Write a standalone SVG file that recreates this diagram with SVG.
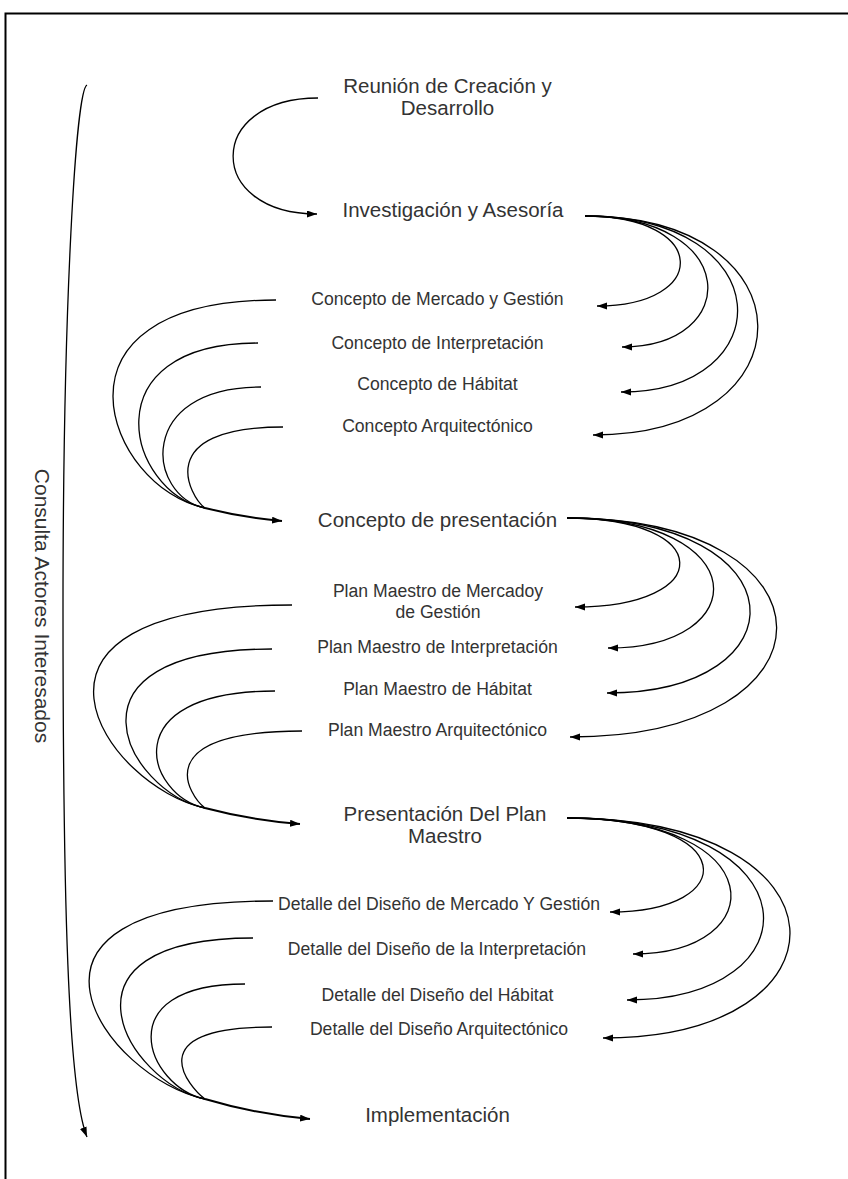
<svg xmlns="http://www.w3.org/2000/svg" width="848" height="1179" viewBox="0 0 848 1179">
<style>
.t{font-family:"Liberation Sans",Arial,sans-serif;fill:#333;text-anchor:middle}
.big{font-size:20.5px}
.lab{font-size:17.6px}
.c{fill:none;stroke:#000;stroke-width:1.3}
.e{marker-end:url(#ah)}
.tail{fill:none;stroke:#000;stroke-width:2;marker-end:url(#ah)}
</style>
<defs>
<marker id="ah" markerUnits="userSpaceOnUse" markerWidth="11" markerHeight="8" refX="10" refY="3.5" orient="auto">
<path d="M0,0 L10,3.5 L0,7 z" fill="#000"/>
</marker>
</defs>
<rect width="848" height="1179" fill="#fff"/>
<path d="M5.5,1179 V13.5 H848" fill="none" stroke="#000" stroke-width="2"/>

<g id="n-consulta"><text class="t" font-size="21" transform="translate(35,606) rotate(90)">Consulta Actores Interesados</text></g>
<g id="n-reunion"><text class="t big" x="447.5" y="93">Reunión de Creación y</text><text class="t big" x="447.5" y="114.5">Desarrollo</text></g>
<g id="n-investigacion"><text class="t big" x="453" y="217">Investigación y Asesoría</text></g>
<g id="n-c1"><text class="t lab" x="437.5" y="305">Concepto de Mercado y Gestión</text></g>
<g id="n-c2"><text class="t lab" x="437.5" y="349">Concepto de Interpretación</text></g>
<g id="n-c3"><text class="t lab" x="437.5" y="390">Concepto de Hábitat</text></g>
<g id="n-c4"><text class="t lab" x="437.5" y="432">Concepto Arquitectónico</text></g>
<g id="n-presentacion"><text class="t big" x="437.5" y="527">Concepto de presentación</text></g>
<g id="n-p1"><text class="t lab" x="438" y="597">Plan Maestro de Mercadoy</text><text class="t lab" x="438" y="618">de Gestión</text></g>
<g id="n-p2"><text class="t lab" x="437.5" y="653">Plan Maestro de Interpretación</text></g>
<g id="n-p3"><text class="t lab" x="437.5" y="695">Plan Maestro de Hábitat</text></g>
<g id="n-p4"><text class="t lab" x="437.5" y="736">Plan Maestro Arquitectónico</text></g>
<g id="n-plan"><text class="t big" x="445" y="821">Presentación Del Plan</text><text class="t big" x="445" y="842.5">Maestro</text></g>
<g id="n-d1"><text class="t lab" x="439" y="910">Detalle del Diseño de Mercado Y Gestión</text></g>
<g id="n-d2"><text class="t lab" x="437" y="955">Detalle del Diseño de la Interpretación</text></g>
<g id="n-d3"><text class="t lab" x="437.5" y="1001">Detalle del Diseño del Hábitat</text></g>
<g id="n-d4"><text class="t lab" x="439" y="1035">Detalle del Diseño Arquitectónico</text></g>
<g id="n-impl"><text class="t big" x="437.5" y="1122">Implementación</text></g>

<g id="connectors">
<path class="c e" d="M87,85 C76,90 63,300 63,610 C63,900 68,1090 87,1137"/>
<path class="c e" d="M318,98 C205,98 205,214 317,214"/>

<path class="c e" d="M585,216 C710,216 710,306 597,306"/>
<path class="c e" d="M585,216 C742,216 742,347 622,347"/>
<path class="c e" d="M585,216 C782,216 782,392 621,392"/>
<path class="c e" d="M585,216 C814,216 814,435 593,435"/>

<path class="c" d="M276,300 C34,300 107,488 205,508"/>
<path class="c" d="M258,343 C89,343 127,492 205,508"/>
<path class="c" d="M261,387 C135,387 147,496 205,508"/>
<path class="c" d="M283,427 C151,427 190,497 205,508"/>
<path class="tail" d="M205,508 Q245,518 282,521"/>

<path class="c e" d="M567,518 C716,518 716,607 575,607"/>
<path class="c e" d="M567,518 C755,518 755,648 608,648"/>
<path class="c e" d="M567,518 C804,518 804,693 607,693"/>
<path class="c e" d="M567,518 C846,518 846,737 570,737"/>

<path class="c" d="M292,605 C-22,605 107,788 205,808"/>
<path class="c" d="M272,649 C50,649 127,792 205,808"/>
<path class="c" d="M275,691 C112,691 147,796 205,808"/>
<path class="c" d="M302,731 C145,731 190,797 205,808"/>
<path class="tail" d="M205,808 Q250,820 300,824"/>

<path class="c e" d="M567,818 C741,818 741,912 610,912"/>
<path class="c e" d="M567,818 C773,818 773,954 633,954"/>
<path class="c e" d="M567,818 C818,818 818,1000 627,1000"/>
<path class="c e" d="M567,818 C858,818 858,1038 603,1038"/>

<path class="c" d="M273,901 C-26,901 107,1079 205,1099"/>
<path class="c" d="M253,938 C43,938 127,1083 205,1099"/>
<path class="c" d="M245,984 C106,984 147,1087 205,1099"/>
<path class="c" d="M272,1027 C136,1027 190,1088 205,1099"/>
<path class="tail" d="M205,1099 Q255,1114 310,1119"/>
</g>
</svg>
